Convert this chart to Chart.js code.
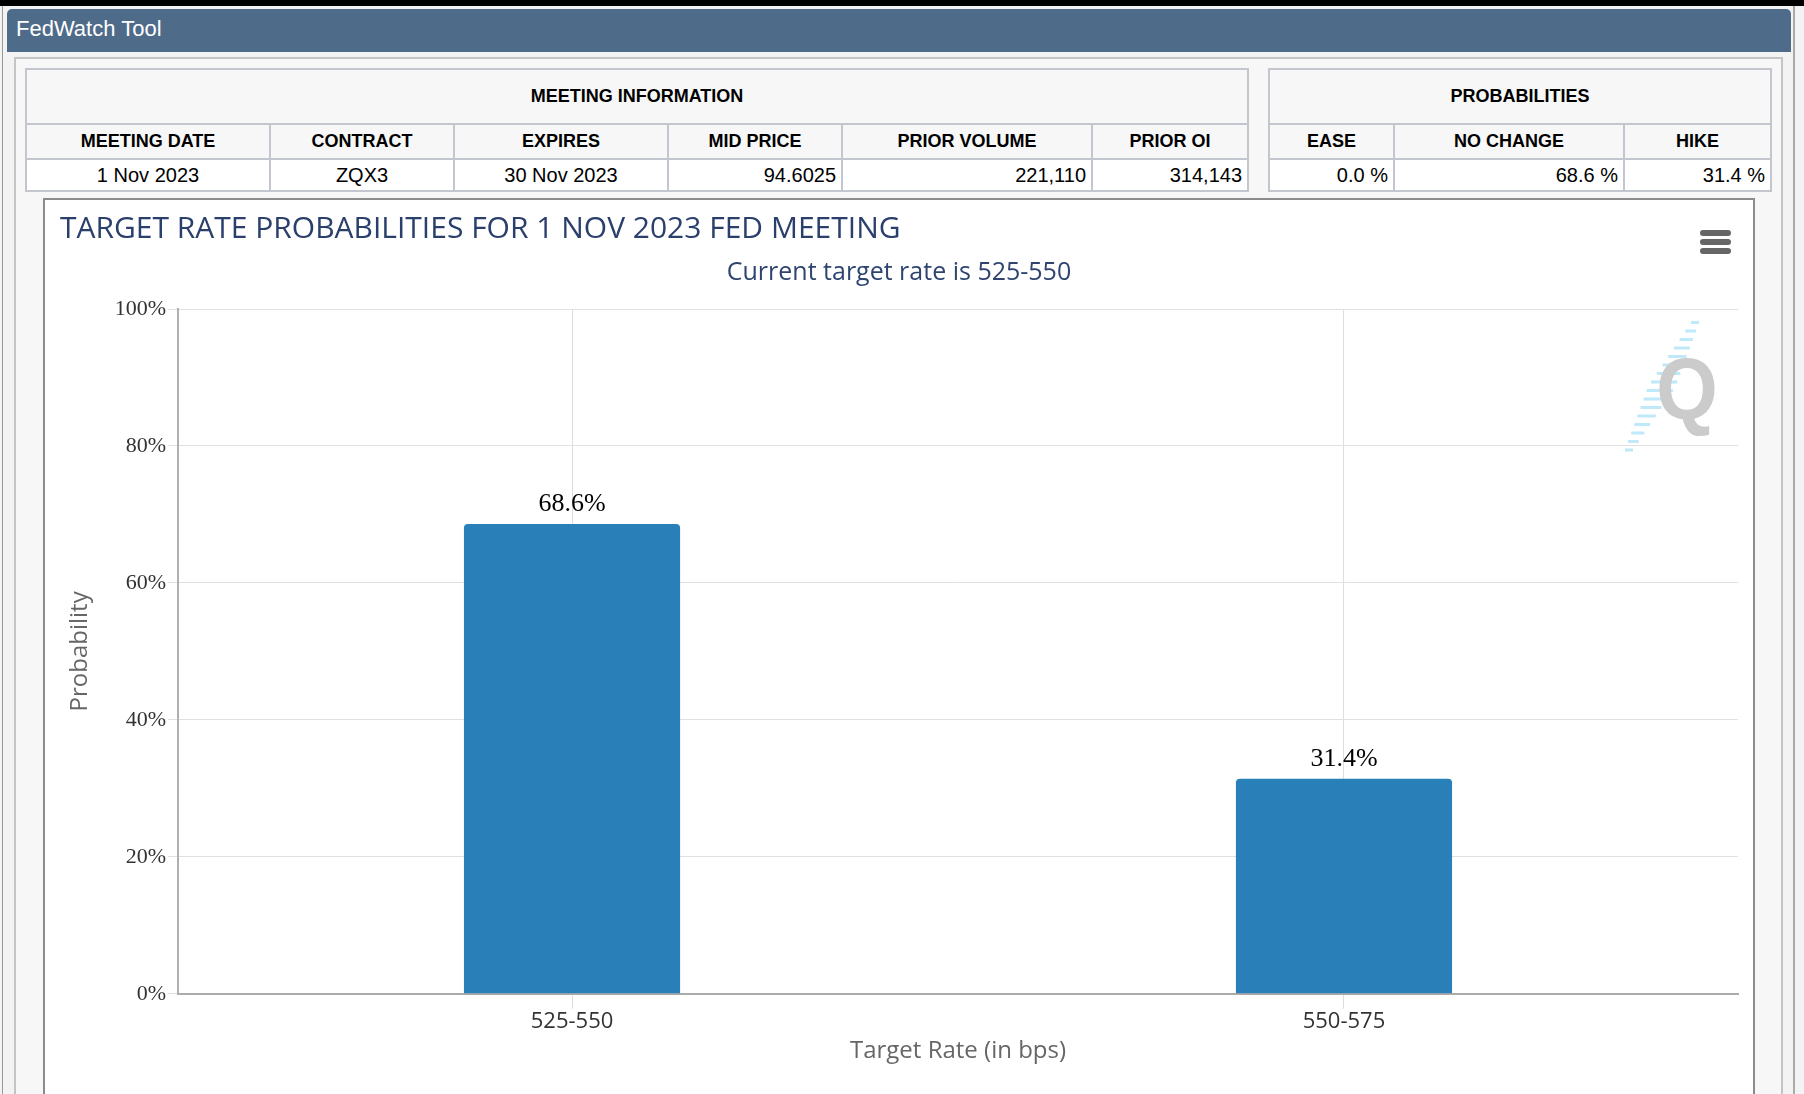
<!DOCTYPE html>
<html>
<head>
<meta charset="utf-8">
<script src="https://cdn.jsdelivr.net/npm/chart.js@4.4.1/dist/chart.umd.min.js"></script>
<style>
html,body{margin:0;padding:0;}
body{width:1804px;height:1094px;overflow:hidden;background:#f3f3f3;position:relative;font-family:'Liberation Sans',Arial,sans-serif;}
#topband{position:absolute;left:0;top:0;width:1804px;height:6px;background:#000;}
#lline{position:absolute;left:2px;top:6px;width:1px;height:1088px;background:#999;}
#rline{position:absolute;left:1793px;top:6px;width:2px;height:1088px;background:#aaa;}
#header{position:absolute;left:7px;top:9px;width:1784px;height:43px;background:#4f6b8a;border-radius:5px 5px 0 0;color:#fff;font-size:22px;line-height:39px;padding-left:9px;box-sizing:border-box;}
#panel{position:absolute;left:14px;top:57px;width:1769px;height:1100px;border:2px solid #c4c4c4;background:#f7f7f7;box-sizing:border-box;}
table.info{position:absolute;top:68px;border-collapse:collapse;table-layout:fixed;background:#f7f7f7;}
table.info th, table.info td{border:2px solid #c3c5cf;padding:0 5px;color:#000;overflow:hidden;white-space:nowrap;}
table.info th{font-weight:bold;font-size:18px;text-align:center;}
table.info td{font-size:20px;background:#fff;}
table.info tr.r1{height:55px;}
table.info tr.r2{height:35px;}
table.info tr.r3{height:32px;}
#chartbox{position:absolute;left:43px;top:198px;width:1712px;height:900px;border:2px solid #8c8c8c;background:#fff;box-sizing:border-box;}
#chartwrap{position:absolute;left:0;top:0;width:1708px;height:894px;}
.hb{position:absolute;left:1655px;width:31px;height:6px;border-radius:3px;background:#666;}
</style>
</head>
<body>
<div id="topband"></div>
<div id="lline"></div>
<div id="rline"></div>
<div id="header">FedWatch Tool</div>
<div id="panel"></div>
<table class="info" id="t1" style="left:25px;width:1222px;"></table>
<table class="info" id="t2" style="left:1268px;width:502px;"></table>
<div id="chartbox">
  <div id="chartwrap"><canvas id="c"></canvas></div>
  <div class="hb" style="top:30px"></div>
  <div class="hb" style="top:39px"></div>
  <div class="hb" style="top:48px"></div>
</div>
<script>
// ---- data ----
const meetingTitle = 'MEETING INFORMATION';
const meetingHeaders = ['MEETING DATE','CONTRACT','EXPIRES','MID PRICE','PRIOR VOLUME','PRIOR OI'];
const meetingValues = ['1 Nov 2023','ZQX3','30 Nov 2023','94.6025','221,110','314,143'];
const probTitle = 'PROBABILITIES';
const probHeaders = ['EASE','NO CHANGE','HIKE'];
const probValues = ['0.0 %','68.6 %','31.4 %'];

const categories = ['525-550','550-575'];
const probabilities = [68.6, 31.4];
const yTickValues = [0,20,40,60,80,100];

const chartTitle = 'TARGET RATE PROBABILITIES FOR 1 NOV 2023 FED MEETING';
const chartSubtitle = 'Current target rate is 525-550';
const xTitle = 'Target Rate (in bps)';
const yTitle = 'Probability';

// ---- tables ----
function buildTable(id, title, headers, values, widths, aligns){
  const t = document.getElementById(id);
  let h = '<colgroup>' + widths.map(w=>'<col style="width:'+w+'px">').join('') + '</colgroup>';
  h += '<tr class="r1"><th colspan="'+headers.length+'">'+title+'</th></tr>';
  h += '<tr class="r2">' + headers.map(x=>'<th>'+x+'</th>').join('') + '</tr>';
  h += '<tr class="r3">' + values.map((x,i)=>'<td style="text-align:'+aligns[i]+'">'+x+'</td>').join('') + '</tr>';
  t.innerHTML = h;
}
buildTable('t1', meetingTitle, meetingHeaders, meetingValues, [244,184,214,174,250,156], ['center','center','center','right','right','right']);
buildTable('t2', probTitle, probHeaders, probValues, [125,230,147], ['right','right','right']);

// ---- plugins ----
// small extra padding at both ends of the category axis (like the original's point padding)
const catInset = {
  id:'catInset',
  afterLayout(chart){
    const s = chart.scales.x;
    const d = 0.0104;
    s._startValue -= d;
    s._valueRange += 2*d;
  }
};
const barLabels = {
  id:'barLabels',
  afterDatasetsDraw(chart){
    const ctx = chart.ctx;
    const meta = chart.getDatasetMeta(0);
    ctx.save();
    ctx.font = "26px 'Liberation Serif', serif";
    ctx.fillStyle = '#000';
    ctx.textAlign = 'center';
    ctx.textBaseline = 'middle';
    meta.data.forEach((bar,i)=>{
      ctx.fillText(probabilities[i].toFixed(1)+'%', bar.x, bar.y - 20);
    });
    ctx.restore();
  }
};
const watermark = {
  id:'watermark',
  beforeDatasetsDraw(chart){
    const ctx = chart.ctx;
    const a = chart.chartArea;
    const qx = a.right - 43, qy = a.top + 12;
    ctx.save();
    ctx.fillStyle = 'rgba(170,225,245,0.75)';
    for(let k=0;k<16;k++){
      const y = qy + k*8.5;
      const x = qx - k*4.4;
      const w = 8 + Math.min(k,15-k)*2.6;
      ctx.fillRect(x - w/2, y, w, 3);
    }
    ctx.translate(a.right - 51, a.top + 110);
    ctx.scale(0.86,0.95);
    ctx.font = "bold 92px 'Liberation Sans', Arial, sans-serif";
    ctx.fillStyle = '#cbcbcb';
    ctx.textAlign = 'center';
    ctx.textBaseline = 'alphabetic';
    ctx.fillText('Q', 0, 0);
    ctx.restore();
  }
};

const sans = "'Open Sans', 'Liberation Sans', sans-serif";
new Chart(document.getElementById('c'), {
  type:'bar',
  data:{
    labels: categories,
    datasets:[{
      data: probabilities,
      backgroundColor:'#2980b9',
      borderRadius:4,
      borderSkipped:'start',
      barPercentage:0.28,
      categoryPercentage:1
    }]
  },
  options:{
    responsive:true,
    maintainAspectRatio:false,
    animation:false,
    layout:{padding:{left:15,right:15,top:0,bottom:19}},
    plugins:{
      legend:{display:false},
      tooltip:{enabled:false},
      title:{display:true,text:chartTitle,align:'start',color:'#2a3f6c',
        font:{family:sans,size:30,weight:'normal',lineHeight:1.2},padding:{top:11,bottom:0}},
      subtitle:{display:true,text:chartSubtitle,color:'#2f4570',
        font:{family:sans,size:25,weight:'normal',lineHeight:1.2},padding:{top:11,bottom:21}}
    },
    scales:{
      x:{
        grid:{offset:false,color:'#dedede',tickColor:'#dcdcdc',tickLength:15,lineWidth:1},
        border:{color:'#ababab',width:2},
        ticks:{color:'#333',font:{family:sans,size:22,lineHeight:1.2},padding:0,maxRotation:0},
        title:{display:true,text:xTitle,color:'#666',font:{family:sans,size:24,lineHeight:1.2},padding:{top:2,bottom:9}}
      },
      y:{
        min:0,max:100,
        afterBuildTicks(scale){ scale.ticks = yTickValues.map(v=>({value:v})); },
        ticks:{callback:v=>v+'%',color:'#333',font:{family:"'Liberation Serif', serif",size:22},padding:2},
        grid:{color:'#e0e0e0',tickColor:'#e0e0e0',tickLength:10},
        border:{color:'#b0b0b0',width:2},
        title:{display:true,text:yTitle,color:'#666',font:{family:sans,size:24,lineHeight:1.2},padding:{top:6,bottom:0}},
        afterFit(scale){ scale.width = 118; }
      }
    }
  },
  plugins:[catInset, watermark, barLabels]
});
</script>
</body>
</html>
